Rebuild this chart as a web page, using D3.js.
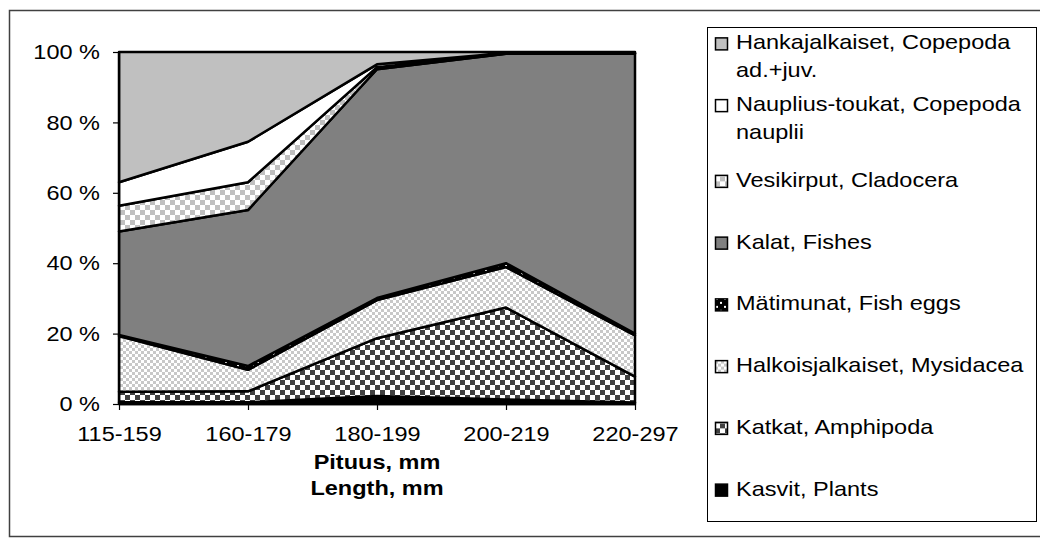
<!DOCTYPE html>
<html>
<head>
<meta charset="utf-8">
<script src="https://cdn.jsdelivr.net/npm/d3@7"></script>
<style>
  body { margin: 0; background: #fff; }
  svg text { font-family: "Liberation Sans", Arial, sans-serif; fill: #000; }
</style>
</head>
<body>
<svg id="chart" width="1040" height="546"></svg>
<script>
// length classes
const categories = ["115-159", "160-179", "180-199", "200-219", "220-297"];

// share of diet, %
const plants    = [0.5, 0.5, 2.3, 1.3, 0.4];
const amphipoda = [3.0, 3.1, 16.4, 26.1, 7.4];
const mysidacea = [15.8, 6.1, 10.8, 11.5, 11.7];
const fishEggs  = [0.3, 1.1, 0.6, 1.1, 0.5];
const fishes    = [29.4, 44.3, 65.0, 59.5, 79.5];
const cladocera = [7.3, 7.9, 0.6, 0.1, 0.1];
const nauplii   = [6.7, 11.5, 0.8, 0.1, 0.1];
const copepoda  = [37.0, 25.5, 3.5, 0.3, 0.3];

const seriesKeys = ["plants", "amphipoda", "mysidacea", "fishEggs", "fishes", "cladocera", "nauplii", "copepoda"];
const seriesLabels = {
  plants: ["Kasvit, Plants"],
  amphipoda: ["Katkat, Amphipoda"],
  mysidacea: ["Halkoisjalkaiset, Mysidacea"],
  fishEggs: ["Mätimunat, Fish eggs"],
  fishes: ["Kalat, Fishes"],
  cladocera: ["Vesikirput, Cladocera"],
  nauplii: ["Nauplius-toukat, Copepoda", "nauplii"],
  copepoda: ["Hankajalkaiset, Copepoda", "ad.+juv."]
};
const yTicks = [0, 0.2, 0.4, 0.6, 0.8, 1];
const xTitle = ["Pituus, mm", "Length, mm"];

const values = { plants, amphipoda, mysidacea, fishEggs, fishes, cladocera, nauplii, copepoda };
const table = categories.map((c, i) => {
  const row = { cat: c };
  seriesKeys.forEach(k => row[k] = values[k][i]);
  return row;
});

const svg = d3.select("#chart");
const stretch = 1.12;   // text in the picture is a bit wide
const fontSize = 21;

// ---- patterns
const defs = svg.append("defs");
function checker(id, size, c1, c2) {
  const p = defs.append("pattern").attr("id", id)
    .attr("patternUnits", "userSpaceOnUse")
    .attr("width", size * 2).attr("height", size * 2);
  p.append("rect").attr("width", size * 2).attr("height", size * 2).attr("fill", c2);
  p.append("rect").attr("width", size).attr("height", size).attr("fill", c1);
  p.append("rect").attr("x", size).attr("y", size).attr("width", size).attr("height", size).attr("fill", c1);
}
checker("pAmph", 5, "#404040", "#ffffff");
checker("pMysid", 3, "#c8c8c8", "#ffffff");
checker("pClad", 5, "#c0c0c0", "#ffffff");
const egg = defs.append("pattern").attr("id", "pEgg")
  .attr("patternUnits", "userSpaceOnUse").attr("width", 8).attr("height", 8);
egg.append("rect").attr("width", 8).attr("height", 8).attr("fill", "#000");
egg.append("rect").attr("x", 1).attr("y", 1).attr("width", 2).attr("height", 2).attr("fill", "#fff");
egg.append("rect").attr("x", 5).attr("y", 5).attr("width", 2).attr("height", 2).attr("fill", "#fff");

const fills = {
  plants: "#000000",
  amphipoda: "url(#pAmph)",
  mysidacea: "url(#pMysid)",
  fishEggs: "url(#pEgg)",
  fishes: "#808080",
  cladocera: "url(#pClad)",
  nauplii: "#ffffff",
  copepoda: "#c0c0c0"
};

// ---- outer frame
svg.append("rect")
  .attr("x", 9.5).attr("y", 10.5).attr("width", 1040).attr("height", 526)
  .attr("fill", "none").attr("stroke", "#404040").attr("stroke-width", 1.5);

// ---- scales
const x = d3.scalePoint().domain(categories).range([119, 635]);
const y = d3.scaleLinear().domain([0, 1]).range([404, 52]);

const stack = d3.stack().keys(seriesKeys).offset(d3.stackOffsetExpand);
const layers = stack(table);

const area = d3.area()
  .x(d => x(d.data.cat))
  .y0(d => y(d[0]))
  .y1(d => y(d[1]));

svg.append("g").selectAll("path")
  .data(layers)
  .join("path")
  .attr("d", area)
  .attr("fill", d => fills[d.key])
  .attr("stroke", "#000")
  .attr("stroke-width", 2.5)
  .attr("stroke-linejoin", "round");

// ---- axes
const yAxis = svg.append("g")
  .attr("transform", "translate(119,0)")
  .call(d3.axisLeft(y).tickValues(yTicks).tickSize(6).tickSizeOuter(0)
    .tickFormat(d => Math.round(d * 100) + " %"));
yAxis.select(".domain").attr("stroke", "#000").attr("stroke-width", 1.5);
yAxis.selectAll(".tick line").attr("stroke", "#000").attr("stroke-width", 1.2);
yAxis.selectAll(".tick text")
  .attr("font-size", fontSize)
  .attr("font-family", "Liberation Sans, Arial, sans-serif")
  .attr("fill", "#000")
  .attr("x", -19 / stretch)
  .attr("transform", `scale(${stretch},1)`);

const xAxis = svg.append("g")
  .attr("transform", "translate(0,404)")
  .call(d3.axisBottom(x).tickSize(6).tickSizeOuter(0).tickPadding(16));
xAxis.select(".domain").attr("stroke", "#000").attr("stroke-width", 1.5);
xAxis.selectAll(".tick line").attr("stroke", "#000").attr("stroke-width", 1.2);
xAxis.selectAll(".tick text")
  .attr("font-size", fontSize)
  .attr("font-family", "Liberation Sans, Arial, sans-serif")
  .attr("fill", "#000")
  .attr("transform", `scale(${stretch},1)`)
  .attr("x", 0);

// axis title
svg.append("g").selectAll("text")
  .data(xTitle)
  .join("text")
  .attr("transform", (d, i) => `translate(377,${463 + i * 26}) scale(${stretch},1)`)
  .attr("text-anchor", "middle")
  .attr("dominant-baseline", "middle")
  .attr("font-size", fontSize)
  .attr("font-weight", "bold")
  .text(d => d);

// ---- legend: box with equal slots for each entry
const lgTop = 27, lgBottom = 521;
svg.append("rect")
  .attr("x", 707.5).attr("y", lgTop + 0.5).attr("width", 329).attr("height", lgBottom - lgTop)
  .attr("fill", "none").attr("stroke", "#000").attr("stroke-width", 1);

const legendOrder = seriesKeys.slice().reverse();
const slot = (lgBottom - lgTop) / legendOrder.length;
const lineH = 28;
const lg = svg.append("g").selectAll("g")
  .data(legendOrder)
  .join("g")
  .attr("transform", (d, i) => {
    const c = lgTop + (i + 0.5) * slot - (seriesLabels[d].length - 1) * lineH / 2;
    return `translate(715,${c})`;
  });

lg.append("rect")
  .attr("x", 0.5).attr("y", -6).attr("width", 12).attr("height", 12)
  .attr("fill", d => fills[d])
  .attr("stroke", "#000").attr("stroke-width", 1.5);

lg.each(function(k) {
  d3.select(this).selectAll("text")
    .data(seriesLabels[k])
    .join("text")
    .attr("transform", (d, i) => `translate(21,${i * lineH}) scale(${stretch},1)`)
    .attr("dominant-baseline", "middle")
    .attr("font-size", fontSize)
    .text(d => d);
});
</script>
</body>
</html>
